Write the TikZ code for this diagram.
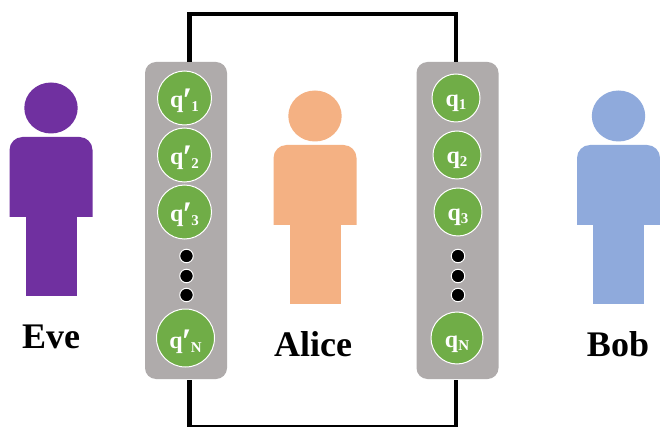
\documentclass[tikz,border=0pt]{standalone}
\usepackage{fontspec}
\setmainfont{Liberation Serif}
\usetikzlibrary{calc}
\definecolor{panelgray}{RGB}{175,171,171}
\definecolor{qgreen}{RGB}{112,173,71}
\definecolor{evec}{RGB}{112,48,160}
\definecolor{alicec}{RGB}{244,177,131}
\definecolor{bobc}{RGB}{143,170,220}
\tikzset{
  x=1pt,y=-1pt,
  panel/.style={draw=none,fill=panelgray,rounded corners=11pt,minimum width=82pt,minimum height=317pt,inner sep=0pt},
  qubit/.style={circle,draw=white,line width=1pt,fill=qgreen,inner sep=0pt,text=white,font=\bfseries\fontsize{24}{24}\selectfont},
  qsmall/.style={qubit,minimum size=48pt},
  qbig/.style={qubit,minimum size=54pt},
  qlarge/.style={qubit,minimum size=58pt},
  qr/.style={qubit,minimum size=52pt},
  dotn/.style={circle,draw=white,line width=1pt,fill=black,minimum size=13.5pt,inner sep=0pt},
  wire/.style={draw=black,line width=4.6pt,line join=miter},
  personlabel/.style={font=\bfseries\fontsize{36}{36}\selectfont,text=black,inner sep=0pt},
}
\newcommand{\person}[3]{%
  \fill[#3] (#1,#2+8) ellipse [x radius=26.7pt,y radius=25.5pt];
  \fill[#3] (#1-41.5,#2+117) -- (#1-41.5,#2+50) arc [start angle=180,end angle=90,radius=13pt]
     -- (#1+28.5,#2+37) arc [start angle=90,end angle=0,radius=13pt] -- (#1+41.5,#2+117) -- cycle;
  \fill[#3] (#1-25.5,#2+110) rectangle (#1+25.5,#2+196);
}
\newcommand{\qp}[1]{\smash{\raisebox{-10pt}{q\kern-1.5pt\raisebox{-5pt}{\textit{\fontsize{36}{36}\selectfont\char"2032}}\kern-0.5pt\raisebox{-4pt}{\fontsize{15}{15}\selectfont #1}}}}
\newcommand{\qs}[1]{\smash{\raisebox{-9pt}{q\raisebox{-3pt}{\fontsize{15}{15}\selectfont #1}}}}
\begin{document}
\begin{tikzpicture}
\useasboundingbox (0,0) rectangle (660,427);
\fill[white] (0,0) rectangle (660,427);
\clip (0,0) rectangle (660,427);
\person{51}{100}{evec}
\person{315}{108}{alicec}
\person{618.5}{108}{bobc}
\node[personlabel] (eve) at (51,337) {Eve};
\node[personlabel] (alice) at (313,344) {Alice};
\node[personlabel] (bob) at (618,344) {Bob};
\coordinate (tl) at (189.5,14);
\coordinate (tr) at (456,14);
\coordinate (bl) at (189.5,427.3);
\coordinate (br) at (456,427.3);
\node[panel] (lp) at (186,220.5) {};
\node[panel] (rp) at (457.5,220.5) {};
\draw[wire] (lp.north -| tl) -- (tl) -- (tr) -- (rp.north -| tr);
\draw[wire] ($(lp.south -| bl)+(0,1)$) -- (bl) -- (br) -- ($(rp.south -| br)+(0,1)$);
\node[qbig] (a1) at (184.5,98) {\qp{1}};
\node[qbig] (a2) at (184.5,155) {\qp{2}};
\node[qbig] (a3) at (184.5,212) {\qp{3}};
\node[dotn] (ad1) at (186.5,256) {};
\node[dotn] (ad2) at (186.5,276) {};
\node[dotn] (ad3) at (186.5,295) {};
\node[qlarge] (aN) at (185.5,338) {\qp{N}};
\node[qsmall] (b1) at (456,98) {\qs{1}};
\node[qsmall] (b2) at (457,155) {\qs{2}};
\node[qsmall] (b3) at (458,212) {\qs{3}};
\node[dotn] (bd1) at (458,256) {};
\node[dotn] (bd2) at (458,276) {};
\node[dotn] (bd3) at (458,295) {};
\node[qr] (bN) at (457,338) {\qs{N}};
\end{tikzpicture}
\end{document}
